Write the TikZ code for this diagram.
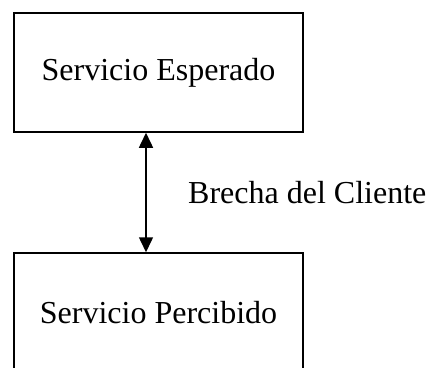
\documentclass[tikz,border=0pt]{standalone}
\usepackage{fontspec}
\setmainfont{Liberation Serif}
\usetikzlibrary{arrows.meta}
\begin{document}
\begin{tikzpicture}[x=1pt,y=-1pt,
  boxst/.style={draw,line width=1.5pt,minimum width=289pt,minimum height=119pt,inner sep=0pt,font=\fontsize{32}{38}\selectfont},
  lbl/.style={font=\fontsize{32}{38}\selectfont,inner sep=0pt}]
\clip (0,0) rectangle (427,367);
\useasboundingbox (0,0) rectangle (427,367);
\node[boxst] (esp) at (158.5,72.5) {Servicio Esperado};
\node[boxst] (per) at (158.5,312.5) {Servicio Percibido};
\coordinate (ax) at (146,0);
\draw[line width=1.5pt,{Triangle[length=15pt,width=14pt]}-{Triangle[length=15pt,width=14pt]}] (esp.south -| ax) -- (per.north -| ax);
\node[lbl,anchor=base west] (gap) at (188,203) {Brecha del Cliente};
\end{tikzpicture}
\end{document}
